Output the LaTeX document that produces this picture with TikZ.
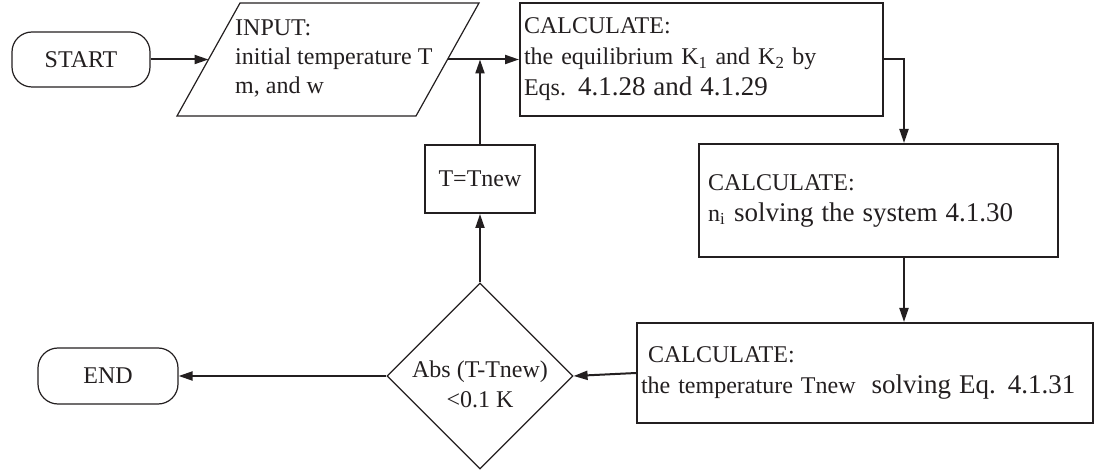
\documentclass[tikz,border=0pt]{standalone}
\usepackage{fontspec}
\setmainfont{Liberation Serif}
\usetikzlibrary{arrows.meta,shapes.geometric}
\definecolor{ink}{RGB}{35,31,32}
\newcommand\Lsz{\fontsize{27}{31}\selectfont}
\begin{document}
\begin{tikzpicture}[x=1pt,y=-1pt,
  every node/.style={font=\fontsize{24}{31}\selectfont, text=ink},
  box/.style={draw=ink, line width=2pt, rectangle, inner ysep=0pt, align=left},
  thin/.style={draw=ink, line width=1.2pt},
  conn/.style={draw=ink, line width=2pt, -{Triangle[length=14pt,width=9pt]}},
  term/.style={draw=ink, line width=1.2pt, rounded corners=20pt, inner sep=0pt}]
\useasboundingbox (0,0) rectangle (1096,473);

% start / end
\node[term, minimum width=138, minimum height=55] (start) at (81,59.5) {START};
\node[term, minimum width=140, minimum height=56] (end) at (108,376) {END};

% input parallelogram
\draw[thin, line join=miter] (177,116) -- (240,3) -- (479,3) -- (416,116) -- cycle;
\node[anchor=west, align=left, inner sep=0pt, font=\fontsize{24}{29}\selectfont] (input) at (235,58)
  {INPUT:\\initial temperature T\\m, and w};
\coordinate (pinL) at (208.5,59.5);
\coordinate (pinR) at (447.5,59.5);
\coordinate (join) at (480,59.5);

% calculate boxes
\node[box, minimum width=363, minimum height=113, inner xsep=4pt, text width=355] (c1) at (701.5,59.5)
  {CALCULATE:\\the equilibrium K\textsubscript{1} and K\textsubscript{2} by\\Eqs. {\Lsz 4.1.28 and 4.1.29}};
\node[box, minimum width=359, minimum height=113, inner xsep=9pt, text width=341] (c2) at (878.5,200.5)
  {CALCULATE:\\n\textsubscript{i}\hspace{9pt}{\Lsz solving the system 4.1.30}};
\node[box, minimum width=456, minimum height=100, inner xsep=4pt, text width=448] (c3) at (865,373)
  {\hspace*{7pt}CALCULATE:\\the temperature Tnew\ \ {\Lsz solving Eq. 4.1.31}};

% T = Tnew
\node[box, minimum width=110, minimum height=68, inner sep=0pt, align=center] (tn) at (480,179) {T=Tnew};

% decision
\node[diamond, aspect=1, draw=ink, line width=1.2pt, minimum width=186, minimum height=186, inner sep=0pt] (dec) at (480,376) {};
\node[align=center, inner sep=0pt, font=\fontsize{24}{30}\selectfont] (dectext) at (480,384) {Abs (T-Tnew)\\<0.1 K};

\coordinate (k1) at (904,59.5);

% connectors
\draw[conn] (start.east) -- (pinL);
\draw[conn] (pinR) -- (c1.west);
\draw[conn] (tn.north) -- (join);
\draw[conn] (c1.east) -- (k1) -- (k1 |- c2.north);
\draw[conn] (k1 |- c2.south) -- (k1 |- c3.north);
\draw[conn] (c3.west) -- (dec.east);
\draw[conn] (dec.west) -- (end.east);
\draw[conn] (dec.north) -- (tn.south);
\end{tikzpicture}
\end{document}
